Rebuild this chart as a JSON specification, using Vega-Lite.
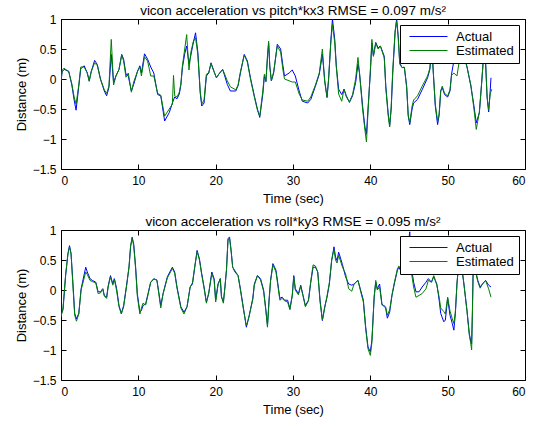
{
 "$schema": "https://vega.github.io/schema/vega-lite/v6.json",
 "background": "white",
 "padding": {"left": 14, "top": 3, "right": 5, "bottom": 2},
 "spacing": 8,
 "config": {
  "font": "Liberation Sans",
  "view": {"stroke": "black", "strokeWidth": 1},
  "axis": {"grid": false, "domain": false, "tickColor": "black", "tickSize": -5, "labelColor": "black", "labelFontSize": 12, "titleFontSize": 13, "titleFontWeight": "normal", "titleColor": "black", "labelFont": "Liberation Sans", "titleFont": "Liberation Sans"},
  "title": {"fontSize": 13.5, "fontWeight": "normal", "color": "black", "offset": -4, "font": "Liberation Sans"},
  "legend": {"orient": "top-right", "offset": 6, "fillColor": "white", "strokeColor": "black", "padding": 5, "symbolType": "M-0.4,0H7.2", "symbolSize": 100, "symbolStrokeWidth": 1, "symbolFillColor": "transparent", "labelFontSize": 13, "labelColor": "black", "labelFont": "Liberation Sans", "rowPadding": 0, "labelOffset": 38}
 },
 "datasets": {
  "top_a": [
   {"t":0.0,"v":-0.05},{"t":0.15,"v":0.12},{"t":0.4,"v":0.16},{"t":1.0,"v":0.13},{"t":1.4,"v":-0.1},{"t":1.7,"v":-0.35},{"t":1.95,"v":-0.52},{"t":2.3,"v":-0.12},{"t":2.55,"v":0.17},{"t":3.0,"v":0.22},{"t":3.4,"v":0.1},{"t":3.65,"v":-0.03},{"t":3.9,"v":0.12},{"t":4.35,"v":0.31},{"t":4.7,"v":0.24},{"t":5.1,"v":0.0},{"t":5.6,"v":-0.2},{"t":5.9,"v":-0.28},{"t":6.2,"v":-0.14},{"t":6.5,"v":0.41},{"t":6.8,"v":-0.06},{"t":7.1,"v":0.05},{"t":7.5,"v":0.16},{"t":7.85,"v":0.41},{"t":8.1,"v":0.33},{"t":8.4,"v":0.08},{"t":8.7,"v":0.05},{"t":9.1,"v":-0.2},{"t":9.4,"v":-0.09},{"t":9.9,"v":0.13},{"t":10.2,"v":0.22},{"t":10.4,"v":0.1},{"t":10.8,"v":0.42},{"t":11.2,"v":0.33},{"t":11.6,"v":0.2},{"t":12.0,"v":0.1},{"t":12.5,"v":-0.26},{"t":12.9,"v":-0.28},{"t":13.4,"v":-0.7},{"t":14.0,"v":-0.56},{"t":14.4,"v":-0.4},{"t":14.7,"v":-0.3},{"t":15.0,"v":-0.33},{"t":15.3,"v":-0.25},{"t":15.5,"v":-0.1},{"t":15.7,"v":0.19},{"t":16.0,"v":0.42},{"t":16.25,"v":0.55},{"t":16.55,"v":0.25},{"t":16.8,"v":0.4},{"t":17.1,"v":0.6},{"t":17.4,"v":0.77},{"t":17.7,"v":0.44},{"t":18.0,"v":-0.23},{"t":18.2,"v":-0.45},{"t":18.5,"v":-0.4},{"t":18.8,"v":0.05},{"t":19.1,"v":0.1},{"t":19.4,"v":0.27},{"t":19.8,"v":0.12},{"t":20.1,"v":0.02},{"t":20.4,"v":0.08},{"t":20.9,"v":0.16},{"t":21.1,"v":0.08},{"t":21.5,"v":-0.09},{"t":21.9,"v":-0.2},{"t":22.6,"v":-0.2},{"t":22.9,"v":-0.11},{"t":23.2,"v":0.1},{"t":23.7,"v":0.41},{"t":24.1,"v":0.3},{"t":24.5,"v":0.02},{"t":25.0,"v":-0.28},{"t":25.4,"v":-0.5},{"t":25.7,"v":-0.64},{"t":26.1,"v":-0.25},{"t":26.3,"v":0.05},{"t":26.5,"v":-0.03},{"t":26.7,"v":0.35},{"t":26.85,"v":0.6},{"t":27.0,"v":0.22},{"t":27.2,"v":-0.03},{"t":27.5,"v":0.1},{"t":27.97,"v":0.58},{"t":28.4,"v":0.5},{"t":28.7,"v":0.22},{"t":28.9,"v":0.05},{"t":29.5,"v":0.1},{"t":29.9,"v":0.15},{"t":30.3,"v":0.05},{"t":30.8,"v":-0.2},{"t":31.2,"v":-0.37},{"t":31.9,"v":-0.4},{"t":32.3,"v":-0.34},{"t":32.9,"v":-0.12},{"t":33.4,"v":0.08},{"t":33.8,"v":0.41},{"t":34.1,"v":-0.02},{"t":34.4,"v":-0.31},{"t":34.6,"v":-0.02},{"t":34.9,"v":0.66},{"t":35.1,"v":1.0},{"t":35.4,"v":0.66},{"t":35.6,"v":0.22},{"t":35.9,"v":-0.17},{"t":36.3,"v":-0.26},{"t":36.6,"v":-0.17},{"t":36.9,"v":-0.28},{"t":37.3,"v":-0.39},{"t":37.7,"v":-0.28},{"t":38.1,"v":-0.06},{"t":38.4,"v":0.25},{"t":38.6,"v":0.1},{"t":39.0,"v":-0.45},{"t":39.3,"v":-0.8},{"t":39.5,"v":-0.92},{"t":39.7,"v":-0.5},{"t":40.0,"v":0.1},{"t":40.2,"v":0.6},{"t":40.4,"v":0.38},{"t":40.7,"v":0.61},{"t":41.0,"v":0.52},{"t":41.3,"v":0.55},{"t":41.8,"v":0.38},{"t":42.0,"v":-0.12},{"t":42.3,"v":-0.56},{"t":42.5,"v":-0.78},{"t":42.7,"v":-0.5},{"t":42.9,"v":0.1},{"t":43.2,"v":0.77},{"t":43.4,"v":1.0},{"t":43.6,"v":0.72},{"t":43.8,"v":0.27},{"t":44.1,"v":0.19},{"t":44.4,"v":0.19},{"t":44.7,"v":-0.12},{"t":44.9,"v":-0.62},{"t":45.1,"v":-0.76},{"t":45.4,"v":-0.5},{"t":45.6,"v":-0.4},{"t":46.1,"v":-0.34},{"t":46.7,"v":-0.18},{"t":47.4,"v":0.02},{"t":47.7,"v":0.16},{"t":47.9,"v":0.5},{"t":48.0,"v":0.6},{"t":48.1,"v":0.2},{"t":48.4,"v":-0.45},{"t":48.7,"v":-0.76},{"t":48.9,"v":-0.6},{"t":49.1,"v":-0.2},{"t":49.3,"v":-0.14},{"t":49.6,"v":-0.26},{"t":50.0,"v":-0.3},{"t":50.3,"v":-0.2},{"t":50.5,"v":0.08},{"t":50.8,"v":0.3},{"t":51.2,"v":0.5},{"t":51.5,"v":0.3},{"t":51.8,"v":0.45},{"t":52.1,"v":0.4},{"t":52.5,"v":0.2},{"t":53.0,"v":-0.12},{"t":53.4,"v":-0.45},{"t":53.7,"v":-0.73},{"t":54.1,"v":-0.56},{"t":54.4,"v":-0.06},{"t":54.6,"v":0.3},{"t":54.9,"v":0.3},{"t":55.1,"v":-0.3},{"t":55.3,"v":-0.55},{"t":55.5,"v":-0.2},{"t":55.6,"v":0.02}
  ],
  "top_e": [
   {"t":0.0,"v":-0.02},{"t":0.15,"v":0.15},{"t":0.4,"v":0.18},{"t":1.0,"v":0.12},{"t":1.4,"v":-0.08},{"t":1.7,"v":-0.3},{"t":1.95,"v":-0.42},{"t":2.3,"v":-0.1},{"t":2.55,"v":0.2},{"t":3.0,"v":0.2},{"t":3.4,"v":0.1},{"t":3.65,"v":-0.04},{"t":3.9,"v":0.12},{"t":4.35,"v":0.27},{"t":4.7,"v":0.22},{"t":5.1,"v":0.0},{"t":5.6,"v":-0.18},{"t":5.9,"v":-0.24},{"t":6.2,"v":-0.12},{"t":6.5,"v":0.66},{"t":6.8,"v":-0.1},{"t":7.1,"v":0.05},{"t":7.5,"v":0.16},{"t":7.85,"v":0.4},{"t":8.1,"v":0.3},{"t":8.4,"v":0.03},{"t":8.7,"v":0.1},{"t":9.1,"v":-0.22},{"t":9.4,"v":-0.05},{"t":9.9,"v":0.13},{"t":10.2,"v":0.2},{"t":10.4,"v":0.05},{"t":10.8,"v":0.37},{"t":11.2,"v":0.3},{"t":11.6,"v":0.05},{"t":12.0,"v":0.05},{"t":12.5,"v":-0.24},{"t":12.9,"v":-0.27},{"t":13.4,"v":-0.62},{"t":14.0,"v":-0.5},{"t":14.4,"v":-0.42},{"t":14.55,"v":0.06},{"t":14.7,"v":-0.28},{"t":15.0,"v":-0.3},{"t":15.3,"v":-0.22},{"t":15.5,"v":-0.08},{"t":15.7,"v":0.22},{"t":16.0,"v":0.5},{"t":16.25,"v":0.74},{"t":16.55,"v":0.15},{"t":16.8,"v":0.45},{"t":17.1,"v":0.62},{"t":17.4,"v":0.69},{"t":17.7,"v":0.4},{"t":18.0,"v":-0.2},{"t":18.2,"v":-0.42},{"t":18.5,"v":-0.35},{"t":18.8,"v":0.08},{"t":19.1,"v":0.1},{"t":19.4,"v":0.26},{"t":19.8,"v":0.12},{"t":20.1,"v":0.02},{"t":20.4,"v":0.08},{"t":20.9,"v":0.16},{"t":21.1,"v":0.1},{"t":21.5,"v":-0.03},{"t":21.9,"v":-0.13},{"t":22.6,"v":-0.18},{"t":22.9,"v":-0.1},{"t":23.2,"v":0.12},{"t":23.7,"v":0.4},{"t":24.1,"v":0.28},{"t":24.5,"v":0.0},{"t":25.0,"v":-0.3},{"t":25.4,"v":-0.52},{"t":25.7,"v":-0.62},{"t":26.1,"v":-0.2},{"t":26.3,"v":0.08},{"t":26.5,"v":-0.05},{"t":26.7,"v":0.4},{"t":26.85,"v":0.63},{"t":27.0,"v":0.2},{"t":27.2,"v":-0.03},{"t":27.5,"v":0.12},{"t":27.97,"v":0.55},{"t":28.4,"v":0.45},{"t":28.7,"v":0.15},{"t":28.9,"v":0.0},{"t":29.5,"v":-0.03},{"t":29.9,"v":-0.05},{"t":30.3,"v":-0.05},{"t":30.8,"v":-0.25},{"t":31.2,"v":-0.35},{"t":31.9,"v":-0.37},{"t":32.3,"v":-0.3},{"t":32.9,"v":-0.1},{"t":33.4,"v":0.1},{"t":33.8,"v":0.5},{"t":34.1,"v":-0.05},{"t":34.4,"v":-0.3},{"t":34.6,"v":0.0},{"t":34.9,"v":0.62},{"t":35.1,"v":0.91},{"t":35.4,"v":0.6},{"t":35.6,"v":0.2},{"t":35.9,"v":-0.25},{"t":36.3,"v":-0.37},{"t":36.6,"v":-0.17},{"t":36.9,"v":-0.3},{"t":37.3,"v":-0.38},{"t":37.7,"v":-0.26},{"t":38.1,"v":0.0},{"t":38.4,"v":0.36},{"t":38.6,"v":0.1},{"t":39.0,"v":-0.5},{"t":39.3,"v":-0.85},{"t":39.5,"v":-1.05},{"t":39.7,"v":-0.55},{"t":40.0,"v":0.15},{"t":40.2,"v":0.66},{"t":40.4,"v":0.38},{"t":40.7,"v":0.6},{"t":41.0,"v":0.5},{"t":41.3,"v":0.55},{"t":41.8,"v":0.35},{"t":42.0,"v":-0.15},{"t":42.3,"v":-0.6},{"t":42.5,"v":-0.8},{"t":42.7,"v":-0.45},{"t":42.9,"v":0.15},{"t":43.2,"v":0.8},{"t":43.4,"v":0.97},{"t":43.6,"v":0.7},{"t":43.8,"v":0.25},{"t":44.1,"v":0.19},{"t":44.4,"v":0.2},{"t":44.7,"v":-0.15},{"t":44.9,"v":-0.6},{"t":45.1,"v":-0.73},{"t":45.4,"v":-0.45},{"t":45.6,"v":-0.35},{"t":46.1,"v":-0.28},{"t":46.7,"v":-0.12},{"t":47.4,"v":0.05},{"t":47.7,"v":0.18},{"t":47.9,"v":0.5},{"t":48.0,"v":0.55},{"t":48.1,"v":0.2},{"t":48.4,"v":-0.42},{"t":48.7,"v":-0.7},{"t":48.9,"v":-0.58},{"t":49.1,"v":-0.2},{"t":49.3,"v":-0.12},{"t":49.6,"v":-0.24},{"t":50.0,"v":-0.28},{"t":50.3,"v":-0.18},{"t":50.5,"v":0.06},{"t":50.8,"v":0.1},{"t":51.2,"v":0.05},{"t":51.5,"v":0.3},{"t":51.8,"v":0.45},{"t":52.1,"v":0.38},{"t":52.5,"v":0.2},{"t":53.0,"v":-0.1},{"t":53.4,"v":-0.5},{"t":53.7,"v":-0.84},{"t":54.1,"v":-0.55},{"t":54.4,"v":-0.05},{"t":54.6,"v":0.3},{"t":54.9,"v":0.28},{"t":55.1,"v":-0.3},{"t":55.3,"v":-0.52},{"t":55.5,"v":-0.25},{"t":55.7,"v":-0.17}
  ],
  "bot_a": [
   {"t":0.0,"v":-0.05},{"t":0.05,"v":-0.4},{"t":0.26,"v":-0.33},{"t":0.6,"v":0.24},{"t":0.9,"v":0.61},{"t":1.1,"v":0.74},{"t":1.3,"v":0.61},{"t":1.55,"v":0.1},{"t":1.77,"v":-0.39},{"t":2.0,"v":-0.48},{"t":2.3,"v":-0.39},{"t":2.6,"v":0.02},{"t":3.2,"v":0.38},{"t":3.4,"v":0.3},{"t":3.75,"v":0.19},{"t":4.05,"v":0.16},{"t":4.5,"v":0.13},{"t":4.8,"v":-0.03},{"t":5.1,"v":-0.03},{"t":5.4,"v":0.02},{"t":5.6,"v":-0.09},{"t":5.9,"v":-0.12},{"t":6.1,"v":0.07},{"t":6.4,"v":0.24},{"t":6.7,"v":0.1},{"t":6.9,"v":0.19},{"t":7.2,"v":0.02},{"t":7.5,"v":-0.26},{"t":7.8,"v":-0.39},{"t":8.1,"v":-0.26},{"t":8.5,"v":0.1},{"t":8.8,"v":0.38},{"t":9.0,"v":0.72},{"t":9.2,"v":0.88},{"t":9.4,"v":0.77},{"t":9.65,"v":0.38},{"t":9.87,"v":-0.06},{"t":10.2,"v":-0.37},{"t":10.4,"v":-0.34},{"t":10.6,"v":-0.26},{"t":10.95,"v":-0.23},{"t":11.25,"v":-0.06},{"t":11.6,"v":0.13},{"t":12.0,"v":0.19},{"t":12.4,"v":0.16},{"t":12.6,"v":0.0},{"t":12.9,"v":-0.26},{"t":13.2,"v":-0.06},{"t":13.75,"v":0.22},{"t":14.4,"v":0.38},{"t":14.7,"v":0.3},{"t":15.0,"v":0.05},{"t":15.5,"v":-0.28},{"t":15.9,"v":-0.37},{"t":16.3,"v":-0.28},{"t":16.7,"v":0.05},{"t":17.0,"v":0.1},{"t":17.3,"v":0.38},{"t":17.6,"v":0.66},{"t":17.9,"v":0.52},{"t":18.2,"v":0.27},{"t":18.5,"v":0.05},{"t":18.8,"v":-0.2},{"t":19.1,"v":-0.06},{"t":19.5,"v":0.3},{"t":19.8,"v":0.19},{"t":20.0,"v":-0.17},{"t":20.3,"v":0.1},{"t":20.6,"v":0.19},{"t":20.75,"v":-0.12},{"t":21.0,"v":-0.2},{"t":21.2,"v":0.05},{"t":21.4,"v":0.33},{"t":21.6,"v":0.86},{"t":21.8,"v":0.88},{"t":22.0,"v":0.66},{"t":22.2,"v":0.38},{"t":22.5,"v":0.3},{"t":22.9,"v":0.24},{"t":23.2,"v":0.02},{"t":23.6,"v":-0.31},{"t":23.97,"v":-0.62},{"t":24.3,"v":-0.45},{"t":24.8,"v":-0.14},{"t":25.0,"v":0.1},{"t":25.4,"v":0.24},{"t":25.8,"v":0.19},{"t":26.2,"v":0.0},{"t":26.5,"v":-0.34},{"t":26.7,"v":-0.59},{"t":26.9,"v":-0.17},{"t":27.1,"v":0.16},{"t":27.4,"v":0.44},{"t":27.8,"v":0.33},{"t":28.1,"v":0.05},{"t":28.3,"v":-0.14},{"t":28.6,"v":-0.12},{"t":28.9,"v":-0.17},{"t":29.3,"v":-0.17},{"t":29.6,"v":-0.31},{"t":29.9,"v":-0.09},{"t":30.1,"v":0.24},{"t":30.3,"v":0.02},{"t":30.7,"v":-0.06},{"t":31.0,"v":0.08},{"t":31.3,"v":-0.09},{"t":31.6,"v":-0.26},{"t":32.0,"v":-0.17},{"t":32.3,"v":0.13},{"t":32.6,"v":0.38},{"t":32.9,"v":0.38},{"t":33.2,"v":0.3},{"t":33.5,"v":-0.17},{"t":33.8,"v":-0.51},{"t":34.1,"v":-0.28},{"t":34.4,"v":-0.12},{"t":34.7,"v":0.1},{"t":35.0,"v":0.49},{"t":35.3,"v":0.72},{"t":35.5,"v":0.55},{"t":35.7,"v":0.49},{"t":35.9,"v":0.63},{"t":36.1,"v":0.55},{"t":36.4,"v":0.42},{"t":36.8,"v":0.22},{"t":37.2,"v":0.1},{"t":37.6,"v":0.08},{"t":37.9,"v":0.1},{"t":38.4,"v":0.16},{"t":38.7,"v":0.02},{"t":39.1,"v":-0.17},{"t":39.4,"v":-0.62},{"t":39.7,"v":-0.95},{"t":40.0,"v":-1.03},{"t":40.2,"v":-0.84},{"t":40.5,"v":-0.12},{"t":40.7,"v":0.13},{"t":40.9,"v":0.02},{"t":41.2,"v":0.1},{"t":41.5,"v":-0.23},{"t":41.8,"v":-0.28},{"t":41.98,"v":-0.3},{"t":42.2,"v":-0.47},{"t":42.5,"v":-0.37},{"t":42.8,"v":-0.09},{"t":43.1,"v":0.1},{"t":43.5,"v":0.33},{"t":43.7,"v":0.38},{"t":44.0,"v":0.3},{"t":44.3,"v":0.38},{"t":44.6,"v":0.55},{"t":44.9,"v":0.77},{"t":45.1,"v":0.97},{"t":45.3,"v":0.38},{"t":45.6,"v":0.13},{"t":45.9,"v":-0.03},{"t":46.3,"v":-0.03},{"t":46.7,"v":0.05},{"t":47.2,"v":0.13},{"t":47.5,"v":0.19},{"t":47.9,"v":0.13},{"t":48.2,"v":0.22},{"t":48.6,"v":0.1},{"t":48.9,"v":-0.17},{"t":49.1,"v":-0.39},{"t":49.5,"v":-0.53},{"t":49.7,"v":-0.5},{"t":50.0,"v":-0.14},{"t":50.3,"v":-0.42},{"t":50.6,"v":-0.56},{"t":50.8,"v":-0.67},{"t":51.0,"v":-0.39},{"t":51.2,"v":0.1},{"t":51.4,"v":0.4},{"t":51.8,"v":0.4},{"t":52.1,"v":0.1},{"t":52.5,"v":-0.34},{"t":52.8,"v":-0.73},{"t":53.0,"v":-0.86},{"t":53.1,"v":-0.9},{"t":53.2,"v":-0.34},{"t":53.3,"v":0.35},{"t":53.6,"v":0.33},{"t":53.9,"v":0.16},{"t":54.2,"v":0.05},{"t":54.5,"v":0.1},{"t":54.9,"v":0.16},{"t":55.3,"v":0.08},{"t":55.6,"v":0.05}
  ],
  "bot_e": [
   {"t":0.0,"v":-0.45},{"t":0.05,"v":-0.42},{"t":0.26,"v":-0.3},{"t":0.6,"v":0.26},{"t":0.9,"v":0.6},{"t":1.1,"v":0.72},{"t":1.3,"v":0.6},{"t":1.55,"v":0.05},{"t":1.77,"v":-0.42},{"t":2.0,"v":-0.52},{"t":2.3,"v":-0.4},{"t":2.6,"v":0.0},{"t":3.2,"v":0.3},{"t":3.4,"v":0.26},{"t":3.75,"v":0.16},{"t":4.05,"v":0.14},{"t":4.5,"v":0.12},{"t":4.8,"v":-0.06},{"t":5.1,"v":-0.05},{"t":5.4,"v":0.02},{"t":5.6,"v":-0.1},{"t":5.9,"v":-0.14},{"t":6.1,"v":0.05},{"t":6.4,"v":0.22},{"t":6.7,"v":0.08},{"t":6.9,"v":0.18},{"t":7.2,"v":-0.02},{"t":7.5,"v":-0.28},{"t":7.8,"v":-0.4},{"t":8.1,"v":-0.28},{"t":8.5,"v":0.08},{"t":8.8,"v":0.4},{"t":9.0,"v":0.74},{"t":9.2,"v":0.86},{"t":9.4,"v":0.74},{"t":9.65,"v":0.35},{"t":9.87,"v":-0.1},{"t":10.2,"v":-0.4},{"t":10.4,"v":-0.3},{"t":10.6,"v":-0.22},{"t":10.95,"v":-0.25},{"t":11.25,"v":-0.08},{"t":11.6,"v":0.13},{"t":12.0,"v":0.18},{"t":12.4,"v":0.17},{"t":12.6,"v":-0.02},{"t":12.9,"v":-0.3},{"t":13.2,"v":-0.06},{"t":13.75,"v":0.2},{"t":14.4,"v":0.36},{"t":14.7,"v":0.28},{"t":15.0,"v":0.03},{"t":15.5,"v":-0.3},{"t":15.9,"v":-0.4},{"t":16.3,"v":-0.28},{"t":16.7,"v":0.05},{"t":17.0,"v":0.12},{"t":17.3,"v":0.4},{"t":17.6,"v":0.64},{"t":17.9,"v":0.5},{"t":18.2,"v":0.25},{"t":18.5,"v":0.03},{"t":18.8,"v":-0.22},{"t":19.1,"v":-0.05},{"t":19.5,"v":0.27},{"t":19.8,"v":0.17},{"t":20.0,"v":-0.2},{"t":20.3,"v":0.08},{"t":20.6,"v":0.19},{"t":20.75,"v":-0.1},{"t":21.0,"v":-0.22},{"t":21.2,"v":0.05},{"t":21.4,"v":0.35},{"t":21.6,"v":0.84},{"t":21.8,"v":0.86},{"t":22.0,"v":0.64},{"t":22.2,"v":0.38},{"t":22.5,"v":0.32},{"t":22.9,"v":0.24},{"t":23.2,"v":0.0},{"t":23.6,"v":-0.33},{"t":23.97,"v":-0.6},{"t":24.3,"v":-0.45},{"t":24.8,"v":-0.16},{"t":25.0,"v":0.08},{"t":25.4,"v":0.24},{"t":25.8,"v":0.17},{"t":26.2,"v":-0.02},{"t":26.5,"v":-0.36},{"t":26.7,"v":-0.62},{"t":26.9,"v":-0.2},{"t":27.1,"v":0.15},{"t":27.4,"v":0.42},{"t":27.8,"v":0.3},{"t":28.1,"v":0.02},{"t":28.3,"v":-0.17},{"t":28.6,"v":-0.14},{"t":28.9,"v":-0.18},{"t":29.3,"v":-0.2},{"t":29.6,"v":-0.33},{"t":29.9,"v":-0.1},{"t":30.1,"v":0.22},{"t":30.3,"v":0.0},{"t":30.7,"v":-0.08},{"t":31.0,"v":0.06},{"t":31.3,"v":-0.1},{"t":31.6,"v":-0.28},{"t":32.0,"v":-0.18},{"t":32.3,"v":0.15},{"t":32.6,"v":0.42},{"t":32.9,"v":0.4},{"t":33.2,"v":0.3},{"t":33.5,"v":-0.2},{"t":33.8,"v":-0.5},{"t":34.1,"v":-0.3},{"t":34.4,"v":-0.1},{"t":34.7,"v":0.12},{"t":35.0,"v":0.5},{"t":35.3,"v":0.68},{"t":35.5,"v":0.5},{"t":35.7,"v":0.45},{"t":35.9,"v":0.58},{"t":36.1,"v":0.5},{"t":36.4,"v":0.38},{"t":36.8,"v":0.27},{"t":37.2,"v":0.02},{"t":37.6,"v":-0.02},{"t":37.9,"v":0.1},{"t":38.4,"v":0.16},{"t":38.7,"v":0.0},{"t":39.1,"v":-0.2},{"t":39.4,"v":-0.65},{"t":39.7,"v":-0.98},{"t":40.0,"v":-1.09},{"t":40.2,"v":-0.88},{"t":40.5,"v":-0.1},{"t":40.7,"v":0.16},{"t":40.9,"v":0.0},{"t":41.2,"v":0.05},{"t":41.5,"v":-0.25},{"t":41.8,"v":-0.26},{"t":41.98,"v":-0.28},{"t":42.2,"v":-0.42},{"t":42.5,"v":-0.33},{"t":42.8,"v":-0.08},{"t":43.1,"v":0.12},{"t":43.5,"v":0.35},{"t":43.7,"v":0.4},{"t":44.0,"v":0.32},{"t":44.3,"v":0.4},{"t":44.6,"v":0.55},{"t":44.9,"v":0.7},{"t":45.1,"v":0.75},{"t":45.3,"v":0.3},{"t":45.6,"v":0.05},{"t":45.9,"v":-0.12},{"t":46.3,"v":-0.09},{"t":46.7,"v":-0.06},{"t":47.2,"v":0.02},{"t":47.5,"v":0.16},{"t":47.9,"v":0.13},{"t":48.2,"v":0.24},{"t":48.6,"v":0.08},{"t":48.9,"v":-0.12},{"t":49.1,"v":-0.3},{"t":49.5,"v":-0.36},{"t":49.7,"v":-0.4},{"t":50.0,"v":-0.12},{"t":50.3,"v":-0.35},{"t":50.6,"v":-0.48},{"t":50.8,"v":-0.56},{"t":51.0,"v":-0.35},{"t":51.2,"v":0.1},{"t":51.4,"v":0.4},{"t":51.8,"v":0.4},{"t":52.1,"v":0.1},{"t":52.5,"v":-0.36},{"t":52.8,"v":-0.75},{"t":53.0,"v":-0.9},{"t":53.1,"v":-1.0},{"t":53.2,"v":-0.4},{"t":53.3,"v":0.35},{"t":53.6,"v":0.3},{"t":53.9,"v":0.14},{"t":54.2,"v":0.03},{"t":54.5,"v":0.1},{"t":54.9,"v":0.16},{"t":55.3,"v":0.02},{"t":55.6,"v":-0.12}
  ]
 },
 "vconcat": [
  {
   "title": {"text": "vicon acceleration vs pitch*kx3 RMSE = 0.097 m/s²"},
   "width": 464, "height": 150,
   "layer": [
    {"data": {"name": "top_a"}, "mark": {"type": "line", "strokeWidth": 1, "clip": true, "strokeJoin": "round"},
     "encoding": {
      "x": {"field": "t", "type": "quantitative", "scale": {"domain": [0, 60], "nice": false, "zero": false}, "axis": {"values": [0,10,20,30,40,50,60], "title": "Time (sec)", "labelPadding": 11, "titlePadding": 6}},
      "y": {"field": "v", "type": "quantitative", "scale": {"domain": [-1.5, 1], "nice": false, "zero": false}, "axis": {"values": [-1.5,-1,-0.5,0,0.5,1], "format": "~g", "title": "Distance (m)", "labelPadding": 10, "titlePadding": 4}},
      "color": {"datum": "Actual", "type": "nominal", "scale": {"domain": ["Actual", "Estimated"], "range": ["#0000ff", "#008000"]}, "legend": {"title": null}}
     }},
    {"data": {"name": "top_e"}, "mark": {"type": "line", "strokeWidth": 1, "clip": true, "strokeJoin": "round"},
     "encoding": {
      "x": {"field": "t", "type": "quantitative", "axis": null},
      "y": {"field": "v", "type": "quantitative", "axis": null},
      "color": {"datum": "Estimated", "type": "nominal"}
     }},
    {"data": {"name": "top_a"}, "mark": {"type": "line", "opacity": 0},
     "encoding": {
      "x": {"field": "t", "type": "quantitative", "axis": {"orient": "top", "values": [0,10,20,30,40,50,60], "labels": false, "title": null}},
      "y": {"field": "v", "type": "quantitative", "axis": {"orient": "right", "values": [-1.5,-1,-0.5,0,0.5,1], "labels": false, "title": null}}
     }}
   ],
   "resolve": {"axis": {"x": "independent", "y": "independent"}}
  },
  {
   "title": {"text": "vicon acceleration vs roll*ky3 RMSE = 0.095 m/s²"},
   "width": 464, "height": 150,
   "layer": [
    {"data": {"name": "bot_a"}, "mark": {"type": "line", "strokeWidth": 1, "clip": true, "strokeJoin": "round"},
     "encoding": {
      "x": {"field": "t", "type": "quantitative", "scale": {"domain": [0, 60], "nice": false, "zero": false}, "axis": {"values": [0,10,20,30,40,50,60], "title": "Time (sec)", "labelPadding": 11, "titlePadding": 6}},
      "y": {"field": "v", "type": "quantitative", "scale": {"domain": [-1.5, 1], "nice": false, "zero": false}, "axis": {"values": [-1.5,-1,-0.5,0,0.5,1], "format": "~g", "title": "Distance (m)", "labelPadding": 10, "titlePadding": 4}},
      "color": {"datum": "Actual", "type": "nominal", "scale": {"domain": ["Actual", "Estimated"], "range": ["#0000ff", "#008000"]}, "legend": {"title": null}}
     }},
    {"data": {"name": "bot_e"}, "mark": {"type": "line", "strokeWidth": 1, "clip": true, "strokeJoin": "round"},
     "encoding": {
      "x": {"field": "t", "type": "quantitative", "axis": null},
      "y": {"field": "v", "type": "quantitative", "axis": null},
      "color": {"datum": "Estimated", "type": "nominal"}
     }},
    {"data": {"name": "bot_a"}, "mark": {"type": "line", "opacity": 0},
     "encoding": {
      "x": {"field": "t", "type": "quantitative", "axis": {"orient": "top", "values": [0,10,20,30,40,50,60], "labels": false, "title": null}},
      "y": {"field": "v", "type": "quantitative", "axis": {"orient": "right", "values": [-1.5,-1,-0.5,0,0.5,1], "labels": false, "title": null}}
     }}
   ],
   "resolve": {"axis": {"x": "independent", "y": "independent"}}
  }
 ],
 "resolve": {"legend": {"color": "independent"}}
}
